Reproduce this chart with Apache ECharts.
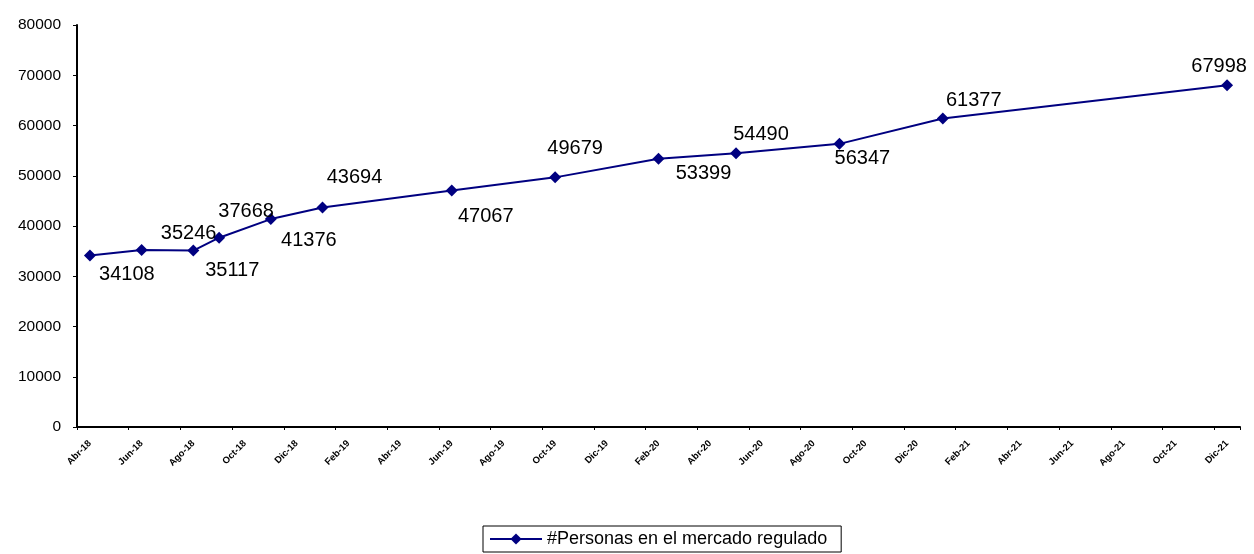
<!DOCTYPE html>
<html>
<head>
<meta charset="utf-8">
<script src="https://cdn.jsdelivr.net/npm/echarts@6/dist/echarts.min.js"></script>
<style>html,body{margin:0;padding:0;background:#fff}#c{width:1254px;height:554px}</style>
</head>
<body>
<div id="c"></div>
<script>
// Month categories Abr-18 .. Dic-21
const months = ["Abr-18","May-18","Jun-18","Jul-18","Ago-18","Sep-18","Oct-18","Nov-18","Dic-18",
"Ene-19","Feb-19","Mar-19","Abr-19","May-19","Jun-19","Jul-19","Ago-19","Sep-19","Oct-19","Nov-19","Dic-19",
"Ene-20","Feb-20","Mar-20","Abr-20","May-20","Jun-20","Jul-20","Ago-20","Sep-20","Oct-20","Nov-20","Dic-20",
"Ene-21","Feb-21","Mar-21","Abr-21","May-21","Jun-21","Jul-21","Ago-21","Sep-21","Oct-21","Nov-21","Dic-21"];
// Observation months and values
const obsMonths = ["Abr-18","Jun-18","Ago-18","Sep-18","Nov-18","Ene-19","Jun-19","Oct-19","Feb-20","May-20","Sep-20","Ene-21","Dic-21"];
const obsValues = [34108,35246,35117,37668,41376,43694,47067,49679,53399,54490,56347,61377,67998];
const seriesName = "#Personas en el mercado regulado";
const yTicks = [0,10000,20000,30000,40000,50000,60000,70000,80000];

// label offsets (styling only)
const labelOffsets = [[37,19],[47,-16],[39,20],[27,-26],[38,21],[32,-30],[34,26],[20,-29],[45,15],[25,-19],[23,15],[31,-18],[-8,-19]];

const data = months.map(m => {
  const i = obsMonths.indexOf(m);
  if (i < 0) return null;
  return {
    value: obsValues[i],
    label: { offset: labelOffsets[i] }
  };
});

const chart = echarts.init(document.getElementById('c'));
chart.setOption({
  animation: false,
  backgroundColor: '#fff',
  grid: { left: 77, right: 14, top: 25, bottom: 127, containLabel: false },
  xAxis: {
    type: 'category',
    data: months,
    boundaryGap: true,
    axisLine: { lineStyle: { color: '#000', width: 2 } },
    axisTick: { show: true, interval: 1, length: 3, lineStyle: { color: '#000' } },
    axisLabel: { interval: 1, rotate: 45, fontSize: 9.5, fontWeight: 'bold', color: '#000', fontFamily: 'Liberation Sans, Arial', margin: 15 },
    splitLine: { show: false }
  },
  yAxis: {
    type: 'value',
    min: yTicks[0],
    max: yTicks[yTicks.length - 1],
    interval: 10000,
    axisLine: { show: true, lineStyle: { color: '#000', width: 2 } },
    axisTick: { show: true, length: 4, lineStyle: { color: '#000' } },
    axisLabel: { fontSize: 15.5, color: '#000', fontFamily: 'Liberation Sans, Arial', margin: 16, formatter: v => String(v) },
    splitLine: { show: false }
  },
  legend: {
    bottom: 2,
    left: 483,
    data: [seriesName],
    borderColor: '#000',
    borderWidth: 1,
    padding: [4, 14, 4, 6],
    itemWidth: 52,
    itemHeight: 14,
    itemGap: 6,
    textStyle: { fontSize: 18, color: '#000', fontFamily: 'Liberation Sans, Arial' }
  },
  series: [{
    name: seriesName,
    type: 'line',
    data: data,
    connectNulls: true,
    symbol: 'diamond',
    symbolSize: 12,
    lineStyle: { color: '#000080', width: 2 },
    itemStyle: { color: '#000080' },
    label: {
      show: true,
      position: 'inside',
      fontSize: 20,
      color: '#000',
      fontFamily: 'Liberation Sans, Arial'
    }
  }]
});
</script>
</body>
</html>
